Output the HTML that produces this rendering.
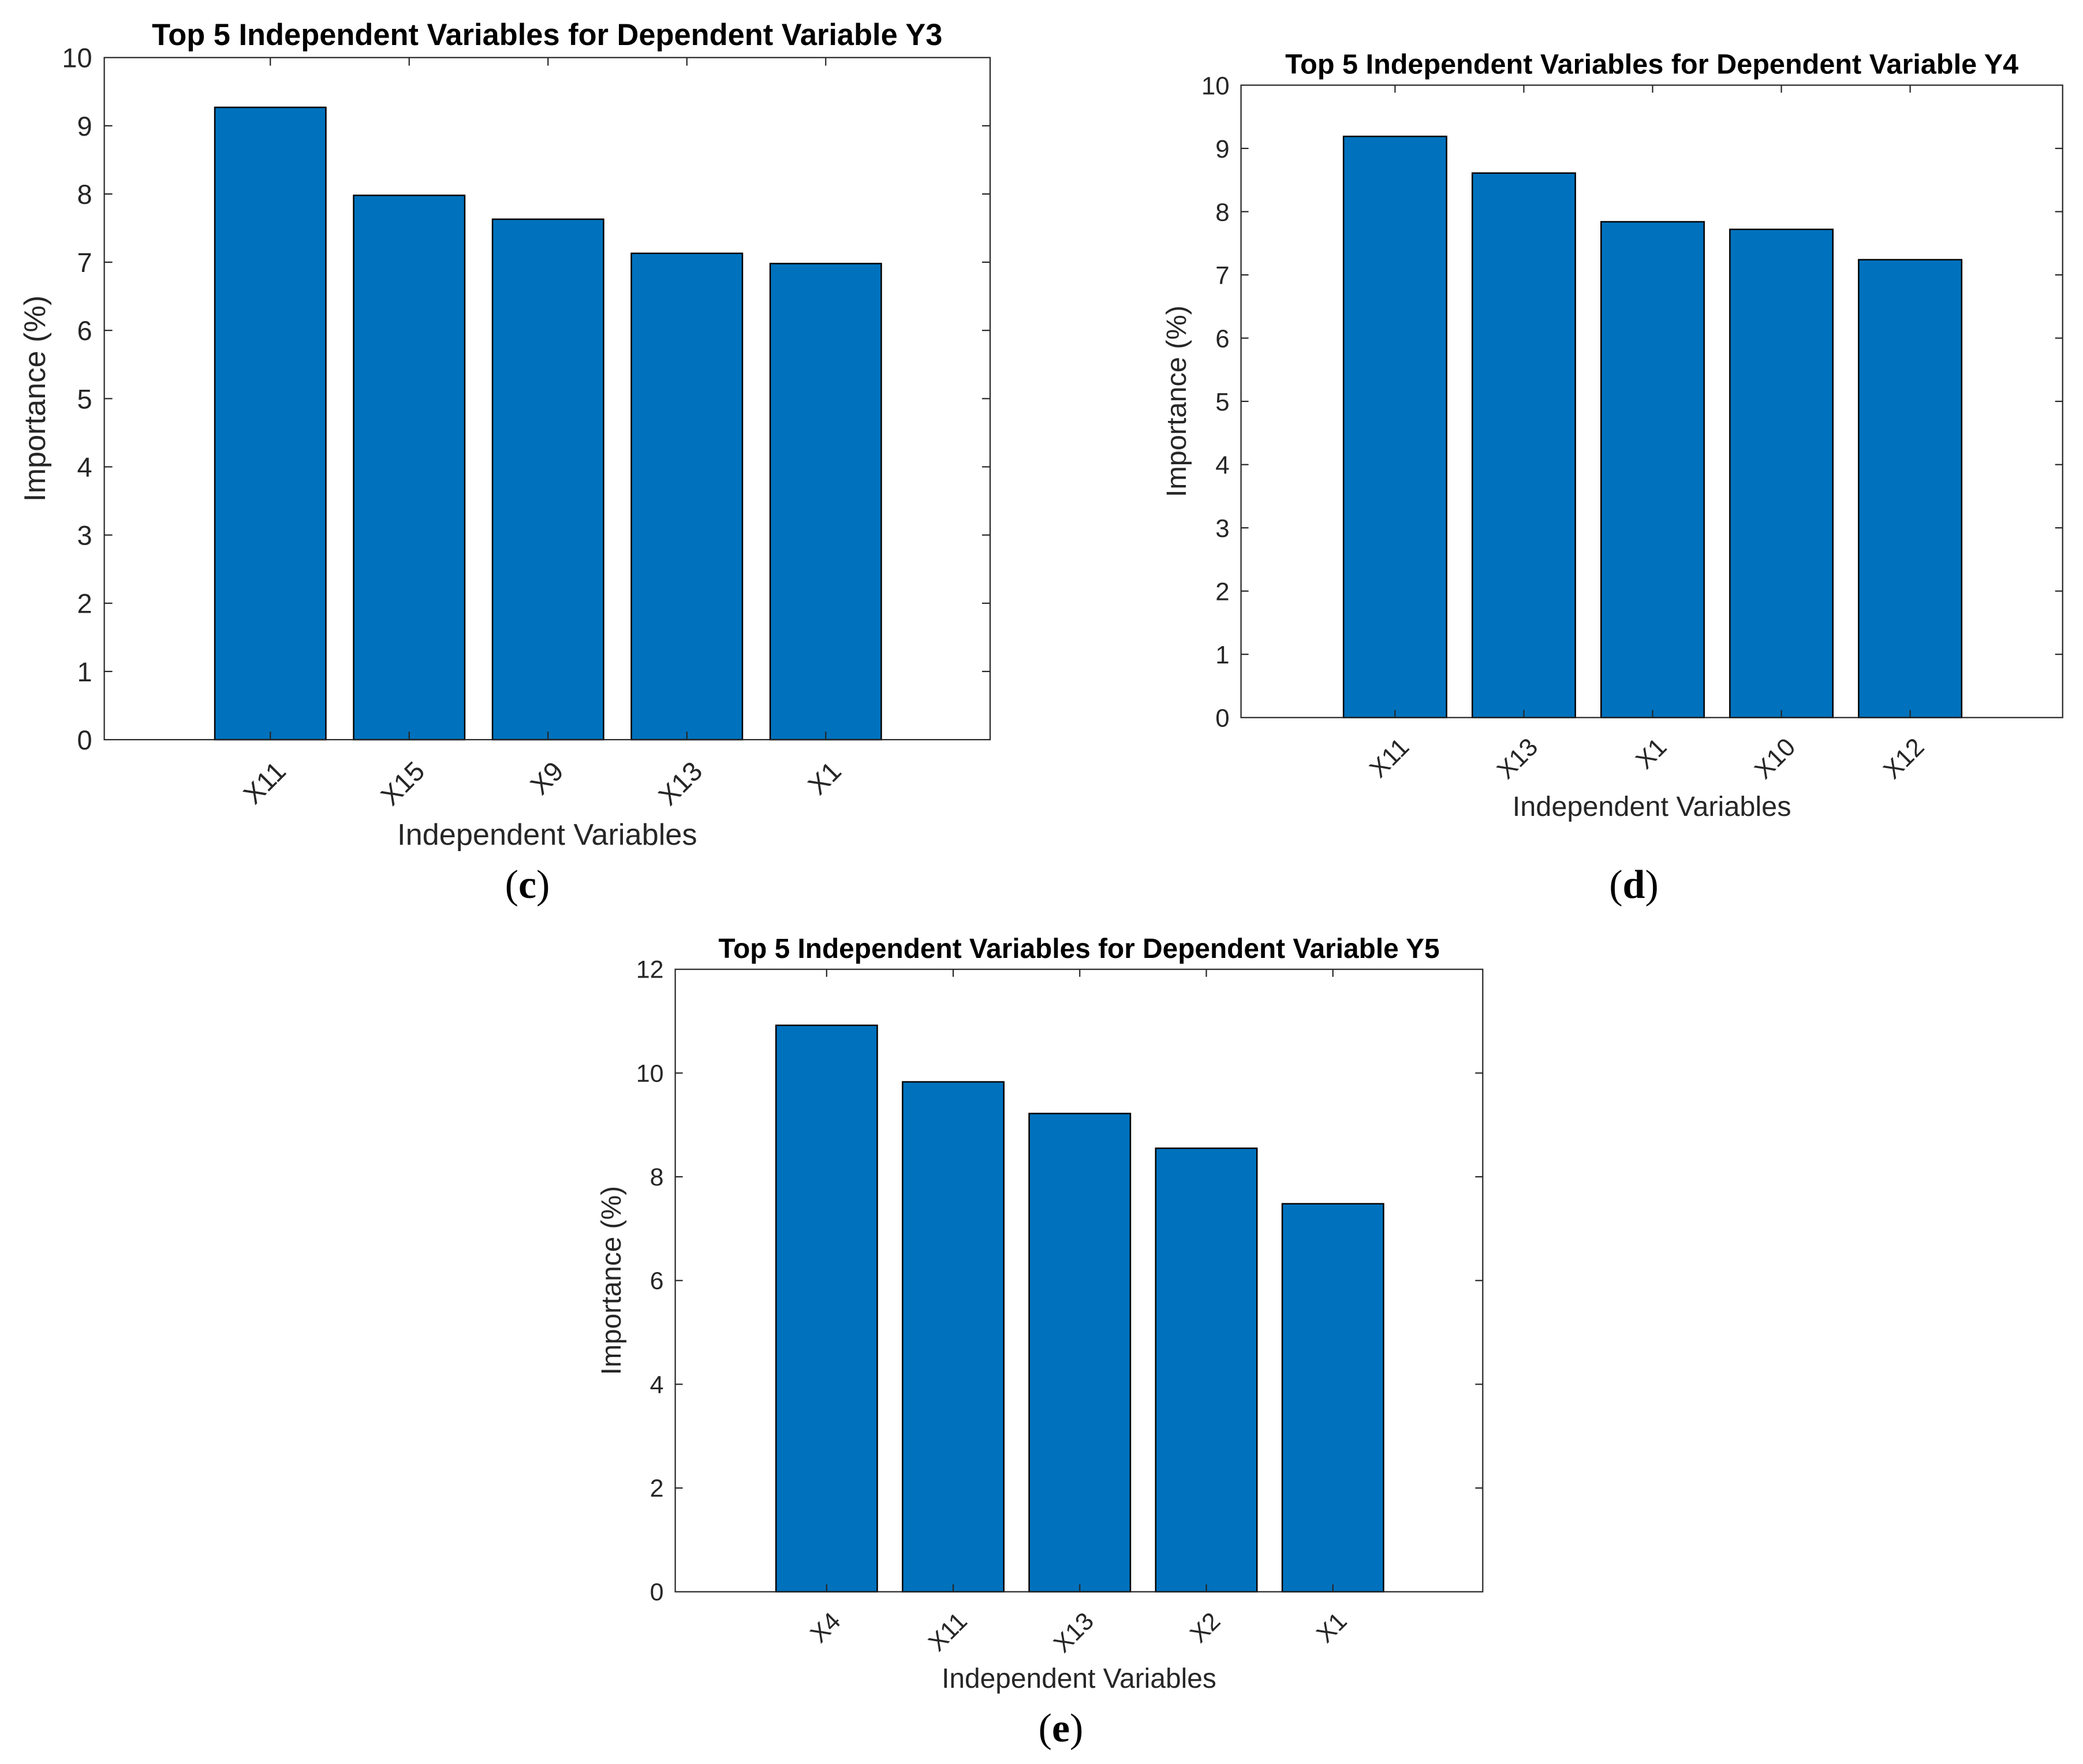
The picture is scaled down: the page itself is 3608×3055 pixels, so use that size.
<!DOCTYPE html>
<html lang="en">
<head>
<meta charset="utf-8">
<title>Top 5 Independent Variables</title>
<style>
html,body{margin:0;padding:0;background:#fff;}
svg{display:block;}
text{font-family:"Liberation Sans",Arial,sans-serif;fill:#262626;}
.cap{font-family:"Liberation Serif",serif;fill:#000;font-size:70px;}
</style>
</head>
<body>
<svg id="fig" xmlns="http://www.w3.org/2000/svg" width="3608" height="3055" viewBox="0 0 3608 3055"></svg>
<script>
// ---- chart data ----
const categoriesY3 = ["X11", "X15", "X9", "X13", "X1"];
const valuesY3 = [9.27, 7.98, 7.63, 7.13, 6.98];
const yTicksY3 = [0, 1, 2, 3, 4, 5, 6, 7, 8, 9, 10];

const categoriesY4 = ["X11", "X13", "X1", "X10", "X12"];
const valuesY4 = [9.19, 8.61, 7.84, 7.72, 7.24];
const yTicksY4 = [0, 1, 2, 3, 4, 5, 6, 7, 8, 9, 10];

const categoriesY5 = ["X4", "X11", "X13", "X2", "X1"];
const valuesY5 = [10.92, 9.83, 9.22, 8.55, 7.48];
const yTicksY5 = [0, 2, 4, 6, 8, 10, 12];

// ---- panel layout ----
const panels = [
  {id: "y3", title: "Top 5 Independent Variables for Dependent Variable Y3", cats: categoriesY3, vals: valuesY3, ticks: yTicksY3,
   left: 180.6, right: 1715, top: 99.7, bottom: 1281, titleSize: 52.4, labelSize: 52.3, tickSize: 47, tickLen: 14,
   titleBase: 78, xLabelBase: 1463, yLabelBase: 78, xTickDx: 18, xTickDy: 46, yTickGap: 21, yTickDy: 17,
   caption: "c", capX: 913.5, capBase: 1555},
  {id: "y4", title: "Top 5 Independent Variables for Dependent Variable Y4", cats: categoriesY4, vals: valuesY4, ticks: yTicksY4,
   left: 2149.6, right: 3572.7, top: 147.5, bottom: 1242.7, titleSize: 48.6, labelSize: 48.6, tickSize: 43.8, tickLen: 13,
   titleBase: 127.3, xLabelBase: 1413, yLabelBase: 2054, xTickDx: 16, xTickDy: 43, yTickGap: 20, yTickDy: 16,
   caption: "d", capX: 2830, capBase: 1555},
  {id: "y5", title: "Top 5 Independent Variables for Dependent Variable Y5", cats: categoriesY5, vals: valuesY5, ticks: yTicksY5,
   left: 1169.6, right: 2568.3, top: 1678.7, bottom: 2756.7, titleSize: 47.8, labelSize: 47.9, tickSize: 43, tickLen: 13,
   titleBase: 1659, xLabelBase: 2923, yLabelBase: 1075, xTickDx: 16, xTickDy: 43, yTickGap: 20, yTickDy: 15,
   caption: "e", capX: 1837.5, capBase: 3016}
];

const NS = "http://www.w3.org/2000/svg";
const AXIS_COLOR = "#262626";
const BAR_COLOR = "#0072BD";
const BAR_WIDTH = 0.8;
const X_MIN = -0.196;
const X_MAX = 6.184;
const fig = document.getElementById("fig");

function make(parent, tag, attrs, content) {
  const el = document.createElementNS(NS, tag);
  for (const k in attrs) el.setAttribute(k, attrs[k]);
  if (content !== undefined) el.textContent = content;
  parent.appendChild(el);
  return el;
}

panels.forEach(function (p) {
  const yMax = p.ticks[p.ticks.length - 1];
  const xScale = function (v) { return p.left + (v - X_MIN) / (X_MAX - X_MIN) * (p.right - p.left); };
  const yScale = function (v) { return p.bottom - v / yMax * (p.bottom - p.top); };

  const g = make(fig, "g", {});
  
  

  // title
  const title = make(g, "text", {x: (p.left + p.right) / 2, y: p.titleBase, "text-anchor": "middle", "font-weight": "bold", "font-size": p.titleSize, style: "fill:#000"}, p.title);
  
  

  // bars
  p.vals.forEach(function (v, i) {
    const cx = xScale(i + 1);
    const half = xScale(BAR_WIDTH / 2) - xScale(0);
    const bar = make(g, "rect", {x: cx - half, y: yScale(v), width: 2 * half, height: yScale(0) - yScale(v), fill: BAR_COLOR, stroke: "#000", "stroke-width": 2.5});
    
    
  });

  // axes box
  const box = make(g, "rect", {x: p.left, y: p.top, width: p.right - p.left, height: p.bottom - p.top, fill: "none", stroke: AXIS_COLOR, "stroke-width": 2.2});
  
  

  // y ticks + labels
  p.ticks.forEach(function (t) {
    const y = yScale(t);
    if (t !== 0 && t !== yMax) {
      const tl = make(g, "line", {x1: p.left, x2: p.left + p.tickLen, y1: y, y2: y, stroke: AXIS_COLOR, "stroke-width": 2.2});
      
      
      const tr = make(g, "line", {x1: p.right, x2: p.right - p.tickLen, y1: y, y2: y, stroke: AXIS_COLOR, "stroke-width": 2.2});
      
      
    }
    const lab = make(g, "text", {x: p.left - p.yTickGap, y: y + p.yTickDy, "text-anchor": "end", "font-size": p.tickSize}, String(t));
    
    
  });

  // x ticks + labels
  p.cats.forEach(function (c, i) {
    const x = xScale(i + 1);
    const tb = make(g, "line", {x1: x, x2: x, y1: p.bottom, y2: p.bottom - p.tickLen, stroke: AXIS_COLOR, "stroke-width": 2.2});
    
    
    const tt = make(g, "line", {x1: x, x2: x, y1: p.top, y2: p.top + p.tickLen, stroke: AXIS_COLOR, "stroke-width": 2.2});
    
    
    const ax = x + p.xTickDx;
    const ay = p.bottom + p.xTickDy;
    const lab = make(g, "text", {x: 0, y: 0, dy: "0.35em", "text-anchor": "end", "font-size": p.tickSize, transform: "translate(" + ax + " " + ay + ") rotate(-45)"}, c);
    
    
  });

  // axis titles
  const xt = make(g, "text", {x: (p.left + p.right) / 2, y: p.xLabelBase, "text-anchor": "middle", "font-size": p.labelSize}, "Independent Variables");
  
  
  const yt = make(g, "text", {x: 0, y: 0, "text-anchor": "middle", "font-size": p.labelSize, transform: "translate(" + p.yLabelBase + " " + (p.top + p.bottom) / 2 + ") rotate(-90)"}, "Importance (%)");
  
  

  // panel caption
  const cap = make(fig, "text", {x: p.capX, y: p.capBase, "text-anchor": "middle", class: "cap"});
  
  
  make(cap, "tspan", {}, "(");
  make(cap, "tspan", {"font-weight": "bold"}, p.caption);
  make(cap, "tspan", {}, ")");
});
</script>
</body>
</html>
